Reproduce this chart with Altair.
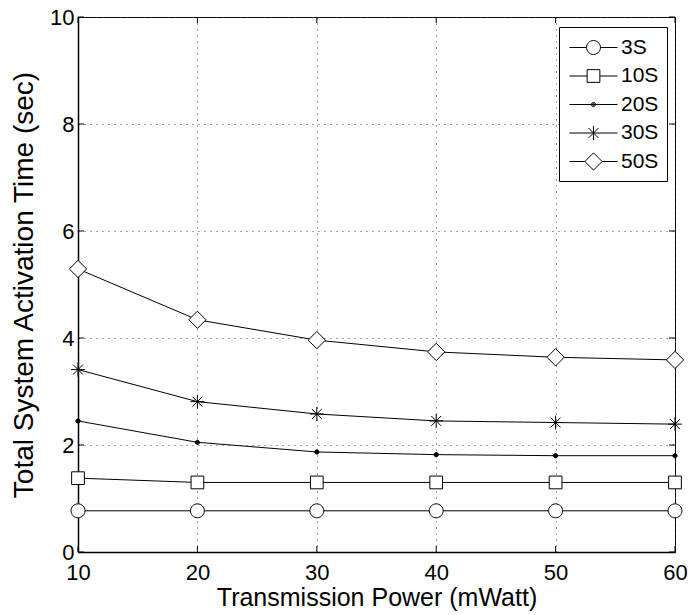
import altair as alt
import pandas as pd

# ---- data ----
x_vals = [10, 20, 30, 40, 50, 60]
series = ["3S", "10S", "20S", "30S", "50S"]
y_3s = [0.77, 0.77, 0.77, 0.77, 0.77, 0.77]
y_10s = [1.38, 1.30, 1.30, 1.30, 1.30, 1.30]
y_20s = [2.45, 2.05, 1.87, 1.82, 1.80, 1.80]
y_30s = [3.41, 2.81, 2.58, 2.45, 2.42, 2.39]
y_50s = [5.29, 4.34, 3.96, 3.74, 3.64, 3.59]
x_ticks = [10, 20, 30, 40, 50, 60]
y_ticks = [0, 2, 4, 6, 8, 10]

rows = []
for name, ys in zip(series, [y_3s, y_10s, y_20s, y_30s, y_50s]):
    for xv, yv in zip(x_vals, ys):
        rows.append({"x": xv, "y": yv, "series": name})
df = pd.DataFrame(rows)

W, H = 597, 535
FONT = "Liberation Sans"

# marker shapes (custom paths within [-1, 1], drawn at size 576 -> 24px box)
plot_paths = [
    "M-0.58,0A0.58,0.58,0,1,0,0.58,0A0.58,0.58,0,1,0,-0.58,0Z",
    "M-0.53,-0.53L0.53,-0.53L0.53,0.53L-0.53,0.53Z",
    "M-0.18,0A0.18,0.18,0,1,0,0.18,0A0.18,0.18,0,1,0,-0.18,0Z",
    "M0,-0.58L0,0.58M-0.58,0L0.58,0M-0.41,-0.41L0.41,0.41M-0.41,0.41L0.41,-0.41",
    "M0,-0.72L0.72,0L0,0.72L-0.72,0Z",
]
DOT = ("M-0.18,0A0.18,0.18,0,1,0,0.18,0A0.18,0.18,0,1,0,-0.18,0"
       "M-0.1,0A0.1,0.1,0,1,0,0.1,0A0.1,0.1,0,1,0,-0.1,0"
       "M-0.03,0L0.03,0")
legend_paths = [
    "M-2,0L-0.58,0M0.58,0L2,0M-0.58,0A0.58,0.58,0,1,0,0.58,0A0.58,0.58,0,1,0,-0.58,0",
    "M-2,0L-0.53,0M0.53,0L2,0M-0.53,-0.53L0.53,-0.53L0.53,0.53L-0.53,0.53Z",
    "M-2,0L2,0" + DOT,
    "M-2,0L2,0M0,-0.58L0,0.58M-0.41,-0.41L0.41,0.41M-0.41,0.41L0.41,-0.41",
    "M-2,0L-0.72,0M0.72,0L2,0M0,-0.72L0.72,0L0,0.72L-0.72,0Z",
]
fills = ["white", "white", "black", "white", "white"]

xenc = alt.X(
    "x:Q",
    scale=alt.Scale(domain=[10, 60], nice=False),
    axis=alt.Axis(
        values=x_ticks, title="Transmission Power (mWatt)", format="d",
        grid=True, gridColor="#444", gridDash=[1, 5], gridWidth=1,
        ticks=False, domain=True, domainColor="black", domainWidth=1.5,
        labelFont=FONT, labelFontSize=22, labelColor="black", labelPadding=10,
        labelFlush=False,
        titleFont=FONT, titleFontSize=25, titleFontWeight="normal",
        titleColor="black", titlePadding=2,
    ),
)
yenc = alt.Y(
    "y:Q",
    scale=alt.Scale(domain=[0, 10], nice=False),
    axis=alt.Axis(
        values=y_ticks, title="Total System Activation Time (sec)", format="d",
        grid=True, gridColor="#444", gridDash=[1, 5], gridWidth=1,
        ticks=False, domain=True, domainColor="black", domainWidth=1.5,
        labelFont=FONT, labelFontSize=22, labelColor="black", labelPadding=4,
        labelFlush=False,
        titleFont=FONT, titleFontSize=28, titleFontWeight="normal",
        titleColor="black", titlePadding=11,
    ),
)

base = alt.Chart(df)

lines = base.mark_line(color="black", strokeWidth=1).encode(
    x=xenc, y=yenc, detail="series:N"
)

points = base.mark_point(
    stroke="black", strokeWidth=1, opacity=1, fillOpacity=1, size=576
).encode(
    x=xenc, y=yenc,
    shape=alt.Shape("series:N", scale=alt.Scale(domain=series, range=plot_paths), legend=None),
    fill=alt.Fill("series:N", scale=alt.Scale(domain=series, range=fills), legend=None),
)

leg = alt.Legend(
    title=None, orient="none", legendX=481, legendY=10,
    strokeColor="black", fillColor="white", padding=8,
    symbolSize=576, symbolStrokeWidth=1, symbolStrokeColor="black",
    symbolFillColor="transparent",
    symbolOpacity=1, symbolOffset=14, labelOffset=15,
    labelFont=FONT, labelFontSize=21, labelColor="black",
    rowPadding=5.5,
)
# legend-only layer: no data rows survive the filter, the legend is built from the scale domain
legend_layer = base.transform_filter("datum.x < 0").mark_point(
    size=576, stroke="black", strokeWidth=1, opacity=1
).encode(
    x=xenc, y=yenc,
    shape=alt.Shape("series:N", scale=alt.Scale(domain=series, range=legend_paths), legend=leg),
)

xt = alt.Chart(pd.DataFrame({"x": x_ticks}))
yt = alt.Chart(pd.DataFrame({"y": y_ticks}))
tick_b = xt.mark_rule(color="black", strokeWidth=1).encode(x=xenc, y=alt.value(H), y2=alt.value(H - 6))
tick_t = xt.mark_rule(color="black", strokeWidth=1).encode(x=xenc, y=alt.value(0), y2=alt.value(6))
tick_l = yt.mark_rule(color="black", strokeWidth=1).encode(y=yenc, x=alt.value(0), x2=alt.value(6))
tick_r = yt.mark_rule(color="black", strokeWidth=1).encode(y=yenc, x=alt.value(W), x2=alt.value(W - 6))

chart = (
    alt.layer(lines, points, legend_layer, tick_b, tick_t, tick_l, tick_r)
    .resolve_scale(shape="independent")
    .properties(
        width=W, height=H,
        autosize=alt.AutoSizeParams(type="none"),
        padding={"left": 78, "top": 17, "right": 17, "bottom": 63},
        background="white",
    )
    .configure_view(stroke="black", strokeWidth=1)
)

chart.save("out.html", embed_options={"renderer": "svg", "actions": False})
